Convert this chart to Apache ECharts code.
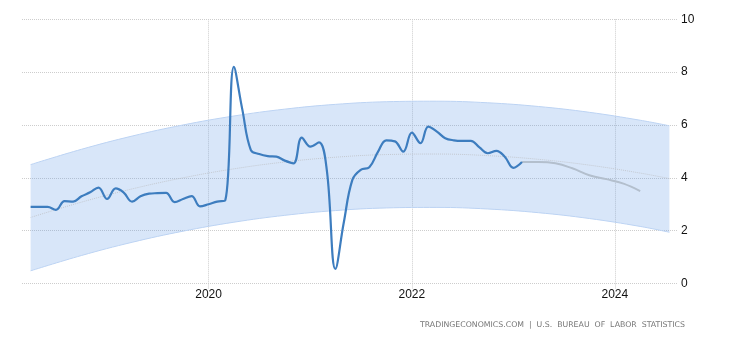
<!DOCTYPE html>
<html>
<head>
<meta charset="utf-8">
<script src="https://cdn.jsdelivr.net/npm/echarts@6/dist/echarts.min.js"></script>
<style>
  html, body { margin: 0; padding: 0; background: #fff; }
  #chart { width: 730px; height: 340px; }
</style>
</head>
<body>
<div id="chart"></div>
<script>
// Average hourly earnings, year-over-year change (%)
const months = [
  '2018-04','2018-05','2018-06','2018-07','2018-08','2018-09','2018-10','2018-11','2018-12',
  '2019-01','2019-02','2019-03','2019-04','2019-05','2019-06','2019-07','2019-08','2019-09','2019-10','2019-11','2019-12',
  '2020-01','2020-02','2020-03','2020-04','2020-05','2020-06','2020-07','2020-08','2020-09','2020-10','2020-11','2020-12',
  '2021-01','2021-02','2021-03','2021-04','2021-05','2021-06','2021-07','2021-08','2021-09','2021-10','2021-11','2021-12',
  '2022-01','2022-02','2022-03','2022-04','2022-05','2022-06','2022-07','2022-08','2022-09','2022-10','2022-11','2022-12',
  '2023-01','2023-02'
];
const actual = [
  2.9, 2.9, 2.9, 2.79, 3.12, 3.1, 3.3, 3.45, 3.63,
  3.2, 3.6, 3.45, 3.1, 3.3, 3.4, 3.42, 3.43, 3.08, 3.2, 3.31, 2.92,
  3.0, 3.1, 3.15, 8.2, 6.6, 5.05, 4.9, 4.82, 4.8, 4.65, 4.55, 5.52,
  5.18, 5.34, 4.3, 0.55, 2.3, 3.92, 4.3, 4.4, 4.98, 5.42, 5.38, 4.99,
  5.71, 5.31, 5.94, 5.75, 5.5, 5.42, 5.4, 5.4, 5.15, 4.93, 5.02, 4.8,
  4.38, 4.6
];

// Forecast path
const forecastMonths = ['2023-02','2023-04','2023-06','2023-08','2023-10','2023-12','2024-02','2024-04'];
const forecast = [4.6, 4.6, 4.55, 4.36, 4.1, 3.95, 3.78, 3.5];

// Long-run trend with its upper and lower bounds
const trendDates = ['2018-04-01','2018-10-01','2019-04-01','2019-10-01','2020-04-01','2020-10-01','2021-04-01',
                    '2021-10-01','2022-04-01','2022-10-01','2023-04-01','2023-10-01','2024-04-01','2024-07-15'];
const trend = [2.50, 3.08, 3.58, 4.00, 4.34, 4.60, 4.78, 4.88, 4.90, 4.84, 4.70, 4.48, 4.18, 3.97];
const upper = [4.50, 5.08, 5.58, 6.00, 6.34, 6.60, 6.78, 6.88, 6.90, 6.84, 6.70, 6.48, 6.18, 5.97];
const lower = [0.48, 1.06, 1.56, 1.98, 2.32, 2.58, 2.76, 2.86, 2.88, 2.82, 2.68, 2.46, 2.16, 1.94];

const xTicks = ['2020-01-01', '2022-01-01', '2024-01-01'];
const yTicks = [0, 2, 4, 6, 8, 10];
const sourceText = 'TRADINGECONOMICS.COM  |  U.S.  BUREAU  OF  LABOR  STATISTICS';

const ts = s => new Date(s.length === 7 ? s + '-01T00:00:00Z' : s + 'T00:00:00Z').getTime();
const pairs = (xs, ys) => xs.map((x, i) => [ts(x), ys[i]]);

const chart = echarts.init(document.getElementById('chart'), null, { renderer: 'canvas' });
const gridColor = '#cdcdcd';
const font = 'Liberation Sans, Arial, sans-serif';
const tickValues = xTicks.map(ts);
const xMin = ts('2018-03-01');
const xMax = ts('2024-08-15');

chart.setOption({
  animation: false,
  grid: { left: 22, right: 52, top: 19.3, bottom: 56.5, containLabel: false, outerBoundsMode: 'none' },
  xAxis: [
    {
      // time axis carrying the series
      type: 'time', min: xMin, max: xMax,
      axisLine: { show: false }, axisTick: { show: false },
      axisLabel: { show: false }, splitLine: { show: false }
    },
    {
      // companion axis drawing the two-year ticks, labels and grid lines
      type: 'value', min: xMin, max: xMax, position: 'bottom',
      axisLine: { show: false },
      axisTick: {
        show: true, length: 6,
        customValues: tickValues,
        lineStyle: { color: gridColor, type: 'dotted' }
      },
      axisLabel: {
        customValues: tickValues,
        formatter: v => String(new Date(v).getUTCFullYear()),
        color: '#111', fontSize: 12, fontFamily: font, margin: 5,
        hideOverlap: false
      },
      splitLine: { show: true, lineStyle: { color: gridColor, type: 'dotted' } }
    }
  ],
  yAxis: {
    type: 'value',
    position: 'right',
    min: yTicks[0], max: yTicks[yTicks.length - 1], interval: 2,
    axisLine: { show: false },
    axisTick: { show: false },
    axisLabel: { color: '#111', fontSize: 12, fontFamily: font, margin: 3 },
    splitLine: { show: true, lineStyle: { color: gridColor, type: 'dotted' } }
  },
  series: [
    {
      name: 'bandLow', type: 'line', stack: 'band', smooth: 0.4, symbol: 'none',
      data: pairs(trendDates, lower),
      lineStyle: { color: '#bcd3f3', width: 1 },
      z: 1, silent: true
    },
    {
      name: 'bandSpan', type: 'line', stack: 'band', smooth: 0.4, symbol: 'none',
      data: pairs(trendDates, upper.map((u, i) => +(u - lower[i]).toFixed(2))),
      lineStyle: { color: '#bcd3f3', width: 1 },
      areaStyle: { color: 'rgba(99,155,231,0.25)', opacity: 1 },
      z: 1, silent: true
    },
    {
      name: 'trend', type: 'line', smooth: 0.4, symbol: 'none',
      data: pairs(trendDates, trend),
      lineStyle: { color: '#c3c8d0', width: 1, type: 'dotted' },
      z: 2, silent: true
    },
    {
      name: 'forecast', type: 'line', smooth: 0.4, symbol: 'none',
      data: pairs(forecastMonths, forecast),
      lineStyle: { color: '#b3bfcd', width: 2 },
      z: 3
    },
    {
      name: 'actual', type: 'line', smooth: 0.4, symbol: 'none',
      data: pairs(months, actual),
      lineStyle: { color: '#3d7dbf', width: 2.2 },
      z: 4
    }
  ],
  graphic: [{
    type: 'text', right: 45, top: 321,
    style: { text: sourceText, fill: '#777', fontSize: 7.8, fontFamily: 'DejaVu Sans, Verdana, sans-serif' }
  }]
});
</script>
</body>
</html>
